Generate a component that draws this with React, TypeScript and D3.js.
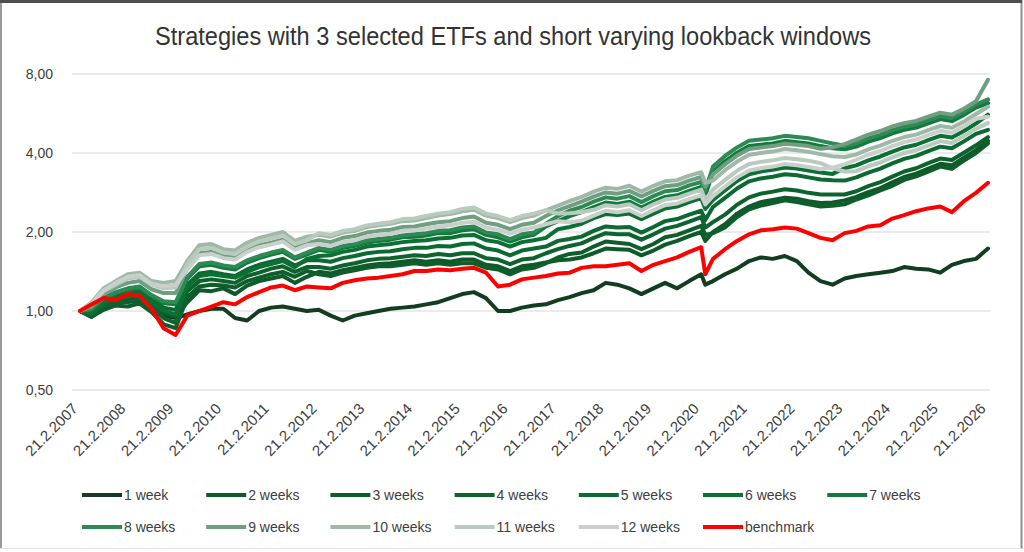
import React from "react";
import * as d3 from "d3";

// Quarterly observation dates (plus the March 2020 trough)
const obsDates = [
  "2007-02-21","2007-05-21","2007-08-21","2007-11-21",
  "2008-02-21","2008-05-21","2008-08-21","2008-11-21",
  "2009-02-21","2009-05-21","2009-08-21","2009-11-21",
  "2010-02-21","2010-05-21","2010-08-21","2010-11-21",
  "2011-02-21","2011-05-21","2011-08-21","2011-11-21",
  "2012-02-21","2012-05-21","2012-08-21","2012-11-21",
  "2013-02-21","2013-05-21","2013-08-21","2013-11-21",
  "2014-02-21","2014-05-21","2014-08-21","2014-11-21",
  "2015-02-21","2015-05-21","2015-08-21","2015-11-21",
  "2016-02-21","2016-05-21","2016-08-21","2016-11-21",
  "2017-02-21","2017-05-21","2017-08-21","2017-11-21",
  "2018-02-21","2018-05-21","2018-08-21","2018-11-21",
  "2019-02-21","2019-05-21","2019-08-21","2019-11-21",
  "2020-02-21","2020-03-23","2020-05-21","2020-08-21","2020-11-21",
  "2021-02-21","2021-05-21","2021-08-21","2021-11-21",
  "2022-02-21","2022-05-21","2022-08-21","2022-11-21",
  "2023-02-21","2023-05-21","2023-08-21","2023-11-21",
  "2024-02-21","2024-05-21","2024-08-21","2024-11-21",
  "2025-02-21","2025-05-21","2025-08-21","2025-11-21",
  "2026-02-21",
];

const week1 = [
  1.00,0.95,1.04,1.08,1.10,1.08,1.02,0.96,0.94,0.97,1.00,1.02,1.02,0.94,0.92,1.00,1.03,1.04,1.02,1.00,
  1.01,0.96,0.92,0.96,0.98,1.00,1.02,1.03,1.04,1.06,1.08,1.12,1.16,1.18,1.12,1.00,1.00,1.03,1.05,1.06,
  1.10,1.13,1.17,1.20,1.28,1.26,1.22,1.16,1.22,1.28,1.22,1.30,1.38,1.26,1.30,1.38,1.45,1.55,1.60,1.58,
  1.62,1.55,1.40,1.30,1.26,1.33,1.36,1.38,1.40,1.42,1.47,1.45,1.44,1.40,1.50,1.55,1.58,1.73,
];
const weeks2 = [
  1.00,0.97,1.06,1.11,1.12,1.14,1.06,0.98,0.95,1.08,1.20,1.19,1.22,1.16,1.25,1.30,1.33,1.36,1.28,1.35,
  1.41,1.39,1.43,1.46,1.49,1.51,1.52,1.54,1.56,1.54,1.56,1.54,1.57,1.57,1.50,1.48,1.42,1.48,1.50,1.53,
  1.56,1.57,1.60,1.66,1.73,1.72,1.71,1.63,1.70,1.79,1.85,1.93,2.00,1.85,2.00,2.14,2.35,2.50,2.60,2.65,
  2.70,2.68,2.62,2.58,2.59,2.64,2.72,2.84,2.94,3.09,3.24,3.34,3.49,3.64,3.59,3.84,4.10,4.45,
];
const weeks3 = [
  1.00,0.95,1.01,1.05,1.04,1.07,0.99,0.89,0.86,1.13,1.24,1.26,1.25,1.23,1.30,1.34,1.38,1.41,1.35,1.42,
  1.38,1.36,1.40,1.43,1.46,1.48,1.48,1.50,1.52,1.50,1.52,1.50,1.52,1.52,1.46,1.44,1.38,1.44,1.46,1.52,
  1.60,1.65,1.67,1.76,1.84,1.82,1.80,1.72,1.80,1.91,1.95,2.03,2.11,1.95,1.98,2.08,2.28,2.44,2.52,2.58,
  2.64,2.60,2.55,2.50,2.52,2.55,2.66,2.76,2.88,3.00,3.16,3.26,3.40,3.55,3.48,3.74,4.00,4.35,
];
const weeks4 = [
  1.00,0.96,1.04,1.08,1.08,1.11,1.03,0.94,0.90,1.19,1.30,1.32,1.30,1.28,1.36,1.40,1.45,1.48,1.41,1.47,
  1.47,1.45,1.49,1.52,1.56,1.58,1.59,1.61,1.63,1.62,1.65,1.63,1.66,1.66,1.59,1.57,1.51,1.57,1.59,1.66,
  1.72,1.77,1.81,1.90,1.98,1.96,1.96,1.87,1.96,2.06,2.11,2.19,2.28,2.08,2.18,2.33,2.54,2.71,2.80,2.85,
  2.91,2.88,2.82,2.78,2.78,2.78,2.86,2.99,3.10,3.25,3.40,3.50,3.66,3.81,3.76,4.01,4.28,4.60,
];
const weeks5 = [
  1.00,0.99,1.09,1.14,1.17,1.19,1.11,1.03,1.01,1.26,1.39,1.41,1.38,1.36,1.44,1.50,1.54,1.58,1.49,1.56,
  1.56,1.54,1.59,1.62,1.66,1.68,1.69,1.72,1.74,1.74,1.77,1.76,1.80,1.81,1.73,1.70,1.63,1.70,1.73,1.76,
  1.85,1.88,1.92,2.02,2.10,2.08,2.09,1.99,2.09,2.20,2.24,2.33,2.41,2.22,2.49,2.70,2.93,3.12,3.20,3.25,
  3.32,3.29,3.23,3.17,3.15,3.14,3.23,3.37,3.49,3.65,3.80,3.90,4.07,4.23,4.17,4.43,4.73,4.90,
];
const weeks6 = [
  1.00,0.98,1.07,1.12,1.13,1.16,1.08,1.00,0.97,1.24,1.36,1.38,1.36,1.34,1.41,1.47,1.51,1.55,1.47,1.58,
  1.62,1.63,1.68,1.71,1.76,1.78,1.80,1.83,1.85,1.86,1.89,1.90,1.94,1.95,1.86,1.83,1.76,1.83,1.86,1.90,
  2.05,2.09,2.15,2.26,2.34,2.32,2.35,2.24,2.35,2.46,2.50,2.60,2.69,2.45,2.65,2.88,3.13,3.32,3.40,3.45,
  3.52,3.49,3.43,3.37,3.33,3.50,3.59,3.75,3.88,4.05,4.20,4.30,4.48,4.65,4.58,4.85,5.18,5.60,
];
const weeks7 = [
  1.00,1.01,1.11,1.17,1.20,1.22,1.14,1.07,1.06,1.33,1.48,1.50,1.46,1.44,1.53,1.59,1.64,1.68,1.58,1.64,
  1.71,1.68,1.74,1.77,1.82,1.85,1.87,1.91,1.92,1.94,1.98,1.98,2.03,2.05,1.95,1.91,1.84,1.91,1.95,2.10,
  2.20,2.30,2.38,2.49,2.59,2.56,2.61,2.48,2.61,2.72,2.76,2.87,2.97,2.75,3.39,3.72,4.01,4.25,4.30,4.35,
  4.45,4.40,4.35,4.25,4.17,4.13,4.23,4.42,4.56,4.75,4.90,5.00,5.19,5.39,5.29,5.59,5.96,6.20,
];
const weeks8 = [
  1.00,1.02,1.12,1.18,1.22,1.24,1.15,1.09,1.08,1.35,1.51,1.53,1.49,1.47,1.56,1.62,1.67,1.71,1.60,1.67,
  1.74,1.71,1.77,1.80,1.86,1.88,1.90,1.94,1.96,1.98,2.02,2.03,2.08,2.10,1.99,1.96,1.88,1.96,1.99,2.15,
  2.30,2.41,2.49,2.61,2.71,2.68,2.74,2.60,2.74,2.86,2.89,3.01,3.10,2.88,3.55,3.90,4.20,4.45,4.50,4.55,
  4.65,4.60,4.55,4.45,4.35,4.26,4.35,4.55,4.69,4.89,5.04,5.14,5.34,5.53,5.44,5.73,6.12,6.40,
];
const weeks9 = [
  1.00,1.04,1.16,1.23,1.28,1.30,1.21,1.17,1.17,1.46,1.66,1.68,1.62,1.60,1.70,1.78,1.82,1.87,1.74,1.81,
  1.86,1.83,1.90,1.93,1.99,2.02,2.04,2.09,2.10,2.14,2.18,2.20,2.26,2.29,2.17,2.13,2.05,2.13,2.17,2.30,
  2.42,2.51,2.61,2.73,2.83,2.80,2.87,2.73,2.87,2.99,3.02,3.14,3.24,2.98,3.31,3.62,3.91,4.14,4.20,4.25,
  4.34,4.30,4.25,4.15,4.20,4.32,4.50,4.70,4.85,5.05,5.20,5.30,5.50,5.70,5.60,5.90,6.30,7.60,
];
const weeks10 = [
  1.00,1.08,1.22,1.30,1.38,1.40,1.30,1.28,1.30,1.55,1.78,1.80,1.72,1.70,1.82,1.90,1.95,2.00,1.85,1.92,
  1.95,1.92,1.99,2.02,2.09,2.12,2.15,2.20,2.21,2.26,2.31,2.34,2.40,2.43,2.31,2.26,2.18,2.26,2.31,2.42,
  2.52,2.62,2.72,2.85,2.95,2.92,3.00,2.85,3.00,3.12,3.15,3.28,3.38,3.08,3.14,3.44,3.71,3.94,4.00,4.05,
  4.14,4.10,4.04,3.96,3.89,3.86,3.95,4.13,4.27,4.45,4.60,4.70,4.89,5.07,4.99,5.27,5.63,6.00,
];
const weeks11 = [
  1.00,1.06,1.19,1.26,1.33,1.35,1.26,1.22,1.23,1.51,1.72,1.74,1.67,1.65,1.76,1.84,1.89,1.94,1.80,1.86,
  1.98,1.95,2.02,2.05,2.12,2.15,2.18,2.24,2.25,2.30,2.35,2.38,2.45,2.48,2.35,2.30,2.22,2.30,2.35,2.42,
  2.35,2.36,2.38,2.43,2.53,2.50,2.55,2.42,2.55,2.66,2.70,2.80,2.90,2.66,2.90,3.16,3.42,3.63,3.70,3.75,
  3.83,3.79,3.74,3.66,3.50,3.40,3.41,3.56,3.68,3.85,4.00,4.10,4.27,4.44,4.37,4.64,4.95,5.20,
];
const weeks12 = [
  1.00,1.07,1.20,1.28,1.35,1.37,1.27,1.24,1.26,1.44,1.63,1.65,1.59,1.57,1.68,1.75,1.79,1.84,1.71,1.78,
  1.80,1.77,1.83,1.86,1.92,1.95,1.97,2.02,2.03,2.06,2.10,2.12,2.17,2.19,2.08,2.04,1.97,2.04,2.08,2.14,
  2.20,2.18,2.21,2.31,2.41,2.38,2.42,2.30,2.42,2.53,2.57,2.67,2.76,2.55,2.74,2.98,3.23,3.43,3.50,3.55,
  3.63,3.59,3.54,3.47,3.52,3.62,3.77,3.94,4.07,4.25,4.40,4.50,4.68,4.86,4.78,5.06,5.40,5.50,
];
const benchmark = [
  1.00,1.06,1.12,1.10,1.16,1.14,1.02,0.86,0.81,0.96,1.00,1.04,1.08,1.06,1.13,1.18,1.23,1.25,1.20,1.24,
  1.23,1.22,1.28,1.31,1.33,1.34,1.36,1.38,1.42,1.42,1.44,1.43,1.45,1.46,1.40,1.24,1.26,1.32,1.34,1.36,
  1.39,1.40,1.46,1.48,1.48,1.50,1.52,1.42,1.50,1.55,1.60,1.68,1.75,1.38,1.58,1.72,1.85,1.96,2.03,2.05,
  2.08,2.06,1.98,1.90,1.86,1.98,2.02,2.10,2.12,2.25,2.32,2.40,2.46,2.50,2.38,2.62,2.82,3.08,
];

const seriesNames = [
  "1 week","2 weeks","3 weeks","4 weeks","5 weeks","6 weeks","7 weeks",
  "8 weeks","9 weeks","10 weeks","11 weeks","12 weeks","benchmark",
];
const seriesValues = [
  week1, weeks2, weeks3, weeks4, weeks5, weeks6, weeks7,
  weeks8, weeks9, weeks10, weeks11, weeks12, benchmark,
];
const seriesColors = [
  "#123d1f","#0f5a2a","#0e5e2b","#0d632e","#0b6a31","#0a7034","#127a3c",
  "#2e8a55","#6f9e80","#9fb8a7","#b9cabe","#c9cfcb","#ff0000",
];

const yTicks = [0.5, 1, 2, 4, 8];
const tickYears = d3.range(2007, 2027);

const W = 1024;
const H = 552;
const FONT = "'Liberation Sans', Arial, sans-serif";

export default function App() {
  const parse = d3.timeParse("%Y-%m-%d");
  const dates = obsDates.map((s) => parse(s) as Date);

  const x = d3
    .scaleTime()
    .domain([new Date(2007, 1, 21), new Date(2026, 1, 21)])
    .range([80, 988]);
  const y = d3.scaleLog().domain([0.5, 8]).range([390, 74]);

  const line = d3
    .line<number>()
    .x((_, i) => x(dates[i]))
    .y((v) => y(v));

  const fmt = (v: number) => d3.format(".2f")(v).replace(".", ",");

  const legendRows = [seriesNames.slice(0, 7), seriesNames.slice(7)];

  return (
    <svg
      width={W}
      height={H}
      style={{ position: "absolute", left: 0, top: 0, background: "#fff" }}
    >
      {/* frame */}
      <rect x={0} y={0} width={W} height={H} fill="#fff" />
      <line x1={1} y1={0} x2={1} y2={549} stroke="#9a9a9a" strokeWidth={2} />
      <line x1={1021.5} y1={0} x2={1021.5} y2={549} stroke="#8f8f8f" strokeWidth={2} />
      <line x1={0} y1={548.5} x2={1022} y2={548.5} stroke="#e4e4e4" strokeWidth={1} />
      <line x1={0} y1={1.5} x2={1022} y2={1.5} stroke="#505050" strokeWidth={3} />

      {/* title */}
      <text
        x={513}
        y={45}
        textAnchor="middle"
        fontFamily={FONT}
        fontSize={26}
        textLength={716}
        lengthAdjust="spacingAndGlyphs"
        fill="#333"
      >
        Strategies with 3 selected ETFs and short varying lookback windows
      </text>

      {/* gridlines and y labels */}
      {yTicks.map((t) => (
        <g key={t}>
          <line x1={72} x2={990} y1={y(t)} y2={y(t)} stroke="#e4e4e4" strokeWidth={1.5} />
          <text
            x={53}
            y={y(t)}
            dy="0.35em"
            textAnchor="end"
            fontFamily={FONT}
            fontSize={14}
            fill="#404040"
          >
            {fmt(t)}
          </text>
        </g>
      ))}

      {/* x labels */}
      {tickYears.map((yr) => {
        const px = x(new Date(yr, 1, 21));
        return (
          <text
            key={yr}
            transform={`translate(${px - 5},${406}) rotate(-45)`}
            textAnchor="end"
            dy="0.35em"
            fontFamily={FONT}
            fontSize={15}
            fill="#404040"
          >
            {`21.2.${yr}`}
          </text>
        );
      })}

      {/* series */}
      {seriesValues.map((vals, i) => (
        <path
          key={seriesNames[i]}
          d={line(vals) || ""}
          fill="none"
          stroke={seriesColors[i]}
          strokeWidth={4}
          strokeLinejoin="round"
          strokeLinecap="round"
        />
      ))}

      {/* legend */}
      {legendRows.map((row, r) =>
        row.map((name, c) => {
          const idx = r * 7 + c;
          const lx = 82 + c * 124.2;
          const ly = r === 0 ? 495 : 527;
          return (
            <g key={name}>
              <line x1={lx} x2={lx + 40} y1={ly} y2={ly} stroke={seriesColors[idx]} strokeWidth={4} />
              <text
                x={lx + 42}
                y={ly}
                dy="0.35em"
                fontFamily={FONT}
                fontSize={14}
                fill="#404040"
              >
                {name}
              </text>
            </g>
          );
        })
      )}
    </svg>
  );
}
